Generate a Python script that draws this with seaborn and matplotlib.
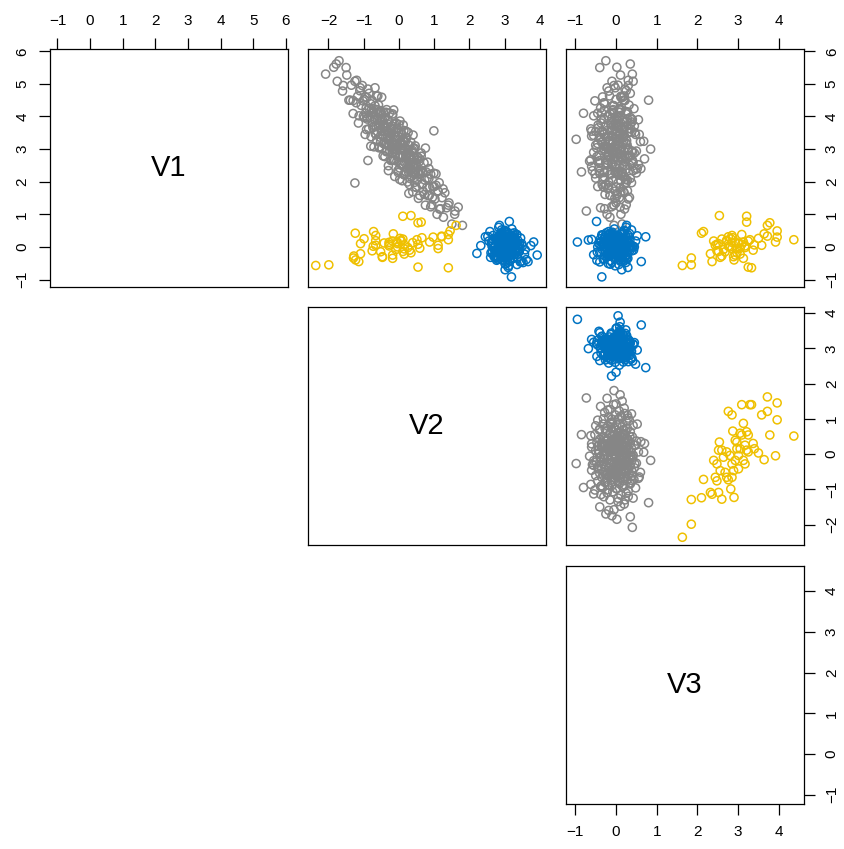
"""
Upper-triangle scatterplot matrix of V1, V2, V3 for three clusters
(gray, blue, yellow), laid out like an R pairs() plot.
"""

import matplotlib
matplotlib.use("Agg")
import matplotlib.pyplot as plt
import pandas as pd
import seaborn as sns

# ---- data ----
gray_v1 = [
    5.30, 5.71, 5.61, 4.95, 5.50, 4.50, 4.96, 4.09, 5.08, 4.42,
    4.62, 4.02, 4.79, 4.34, 4.95, 4.01, 4.52, 3.45, 4.26, 4.58,
    3.96, 4.84, 3.62, 4.24, 3.97, 4.39, 3.38, 4.10, 4.49, 3.66,
    4.14, 3.07, 3.90, 4.33, 3.47, 4.11, 3.70, 4.63, 3.27, 3.91,
    3.54, 4.13, 3.72, 4.35, 3.04, 3.88, 3.37, 4.15, 3.74, 3.23,
    3.91, 3.55, 4.59, 3.02, 3.91, 3.40, 3.69, 4.12, 3.16, 3.55,
    3.93, 2.77, 3.71, 3.34, 4.13, 3.17, 3.56, 2.94, 3.78, 3.37,
    3.90, 2.49, 3.53, 3.11, 4.10, 2.94, 3.38, 3.61, 2.65, 3.49,
    3.17, 3.71, 2.90, 4.08, 3.22, 2.66, 3.45, 2.98, 3.77, 2.16,
    3.29, 2.83, 3.52, 3.00, 3.79, 2.63, 3.17, 3.40, 2.34, 3.08,
    3.51, 2.75, 3.19, 2.42, 3.86, 2.80, 3.24, 2.52, 3.01, 3.45,
    2.03, 3.12, 2.81, 3.24, 2.53, 3.57, 2.21, 2.94, 2.58, 3.22,
    2.75, 2.29, 3.33, 2.61, 3.00, 1.99, 2.88, 3.51, 2.30, 2.74,
    2.47, 3.11, 2.10, 2.83, 2.52, 3.21, 2.15, 2.68, 2.27, 2.91,
    1.69, 2.53, 3.02, 2.25, 2.74, 1.98, 2.52, 3.10, 2.29, 1.83,
    2.56, 2.04, 2.76, 2.24, 2.61, 1.58, 2.31, 2.78, 1.91, 2.28,
    1.70, 2.58, 2.05, 1.28, 2.30, 1.82, 2.60, 1.57, 2.10, 1.82,
    2.23, 1.29, 1.85, 2.26, 1.47, 1.89, 1.00, 1.71, 1.97, 1.17,
    1.51, 0.91, 1.66, 1.20, 1.35, 0.70, 1.00, 1.22, 0.66, 3.56,
    3.30, 3.00, 4.50, 1.10, 2.30, 4.10, 2.70, 1.96, 2.65, 3.55,
    3.74, 2.79, 2.88, 3.60, 1.64, 4.20, 2.40, 4.63, 2.07, 3.80,
    3.43, 2.34, 2.24, 4.24, 2.32, 3.62, 1.49, 5.27, 2.77, 3.14,
    3.03, 2.66, 3.24, 3.09, 1.52, 4.18, 3.36, 4.48, 1.84, 2.93,
    1.78, 4.21, 1.91, 3.45, 2.97, 4.49, 2.32, 3.68, 2.96, 3.07,
    3.75, 4.71, 2.67, 2.66, 1.23, 3.65, 2.38, 4.78, 2.22, 2.28,
    3.26, 4.88, 1.16, 3.42, 3.02, 3.92, 2.40, 4.03, 1.61, 3.42,
    2.55, 5.11, 2.11, 3.97, 2.79, 3.83, 1.28, 3.35, 2.70, 3.80,
    2.38, 4.88, 2.45, 3.51, 1.85, 4.21, 2.22, 3.97, 2.50, 3.04,
    5.08, 1.94, 3.07, 2.96, 2.92, 1.72, 4.21, 2.58, 3.63, 2.80,
    5.51, 1.58, 3.85, 2.99, 3.24, 2.13, 3.71, 2.84, 4.60, 3.52,
]
gray_v2 = [
    -2.08, -1.70, -1.78, -1.58, -1.50, -1.42, -1.35, -1.30, -1.25, -1.21,
    -1.17, -1.13, -1.11, -1.07, -1.04, -1.01, -0.98, -0.96, -0.93, -0.91,
    -0.89, -0.88, -0.86, -0.84, -0.82, -0.80, -0.79, -0.77, -0.76, -0.74,
    -0.72, -0.71, -0.69, -0.68, -0.67, -0.66, -0.65, -0.64, -0.63, -0.62,
    -0.61, -0.60, -0.59, -0.58, -0.57, -0.56, -0.55, -0.54, -0.53, -0.52,
    -0.51, -0.50, -0.49, -0.48, -0.47, -0.46, -0.45, -0.44, -0.43, -0.42,
    -0.41, -0.40, -0.39, -0.38, -0.37, -0.36, -0.35, -0.34, -0.33, -0.32,
    -0.31, -0.30, -0.29, -0.28, -0.27, -0.26, -0.25, -0.24, -0.23, -0.22,
    -0.21, -0.20, -0.19, -0.18, -0.17, -0.16, -0.15, -0.14, -0.13, -0.12,
    -0.11, -0.10, -0.09, -0.08, -0.07, -0.06, -0.05, -0.04, -0.03, -0.02,
    -0.01, 0.00, 0.01, 0.02, 0.03, 0.04, 0.05, 0.06, 0.07, 0.08,
    0.09, 0.10, 0.11, 0.12, 0.13, 0.14, 0.15, 0.16, 0.17, 0.18,
    0.19, 0.20, 0.21, 0.22, 0.23, 0.24, 0.25, 0.26, 0.27, 0.28,
    0.29, 0.30, 0.31, 0.32, 0.33, 0.34, 0.35, 0.36, 0.37, 0.38,
    0.39, 0.40, 0.41, 0.42, 0.43, 0.44, 0.45, 0.46, 0.47, 0.48,
    0.49, 0.51, 0.53, 0.55, 0.57, 0.59, 0.61, 0.63, 0.65, 0.67,
    0.69, 0.71, 0.73, 0.75, 0.77, 0.79, 0.81, 0.83, 0.85, 0.87,
    0.90, 0.93, 0.96, 0.99, 1.02, 1.05, 1.08, 1.11, 1.14, 1.18,
    1.22, 1.26, 1.30, 1.35, 1.42, 1.50, 1.58, 1.68, 1.80, 0.99,
    -0.27, -0.18, -1.38, 1.59, 0.55, -0.95, 0.30, -1.25, -0.88, 0.20,
    0.12, -0.45, 0.63, -0.92, 0.28, -0.15, 0.85, -0.60, 0.02, -1.15,
    0.40, -0.30, 1.05, -0.72, 0.18, -0.05, 0.55, -1.48, 0.33, -0.38,
    0.75, -0.20, 0.05, -0.80, 0.95, -0.52, 0.22, -1.02, 0.47, -0.10,
    1.25, -0.35, 0.30, -0.65, 0.10, -1.30, 0.68, -0.25, 0.38, -0.55,
    0.00, -0.85, 0.52, -0.12, 0.90, -0.42, 0.25, -1.60, 0.60, -0.02,
    0.15, -0.68, 1.15, -0.32, 0.45, -0.90, 0.35, -0.18, 0.72, -0.48,
    0.08, -1.20, 0.80, -0.40, 0.20, -0.75, 1.40, -0.08, 0.58, -0.58,
    0.32, -1.10, 0.42, -0.28, 1.00, -0.62, 0.14, -0.98, 0.50, -0.22,
    -1.75, 0.66, -0.05, 0.26, -0.36, 1.10, -0.78, 0.36, -0.14, 0.04,
    -1.85, 0.86, -0.50, 0.16, -0.26, 0.44, -0.70, 0.24, -0.96, 0.06,
]
gray_v3 = [
    0.40, -0.25, 0.35, -0.05, -0.40, 0.20, 0.05, -0.15, 0.42, -0.30,
    0.12, -0.55, 0.25, -0.08, 0.30, -0.20, 0.00, 0.48, -0.38, 0.15,
    -0.10, 0.22, -0.62, 0.08, 0.35, -0.28, 0.05, -0.45, 0.18, -0.12,
    0.28, -0.22, 0.55, -0.05, 0.10, -0.35, 0.02, 0.20, -0.18, 0.40,
    -0.50, 0.07, -0.25, 0.32, -0.02, 0.15, -0.40, 0.25, -0.12, 0.60,
    -0.30, 0.00, 0.12, -0.15, 0.38, -0.60, 0.20, -0.08, 0.05, -0.35,
    0.28, -0.20, 0.45, -0.02, 0.10, -0.45, 0.18, -0.10, 0.35, -0.25,
    0.02, 0.22, -0.32, 0.08, -0.05, 0.50, -0.18, 0.15, -0.40, 0.30,
    -0.08, 0.05, -0.55, 0.25, -0.15, 0.40, -0.30, 0.12, -0.02, 0.20,
    -0.38, 0.08, 0.32, -0.20, 0.00, -0.65, 0.15, -0.10, 0.42, -0.28,
    0.10, -0.05, 0.25, -0.42, 0.05, 0.20, -0.15, 0.55, -0.30, 0.00,
    0.12, -0.50, 0.30, -0.08, 0.18, -0.22, 0.05, 0.38, -0.12, -0.35,
    0.22, -0.02, 0.10, -0.45, 0.28, -0.18, 0.45, 0.02, -0.28, 0.15,
    -0.60, 0.08, 0.35, -0.15, 0.00, -0.35, 0.20, -0.05, 0.50, -0.25,
    0.12, -0.10, 0.30, -0.40, 0.05, 0.25, -0.20, 0.00, 0.15, -0.30,
    0.40, -0.08, 0.10, -0.52, 0.22, -0.15, 0.05, 0.35, -0.25, 0.00,
    0.18, -0.40, 0.28, -0.05, 0.15, -0.20, 0.42, 0.02, -0.32, 0.10,
    -0.12, 0.25, -0.45, 0.05, 0.30, -0.18, 0.12, -0.02, 0.38, -0.28,
    0.08, -0.15, 0.20, -0.38, 0.00, 0.15, -0.22, 0.10, -0.05, -0.10,
    -0.98, 0.85, 0.80, -0.73, -0.85, -0.80, 0.70, 0.05, -0.20, -0.60,
    -0.44, 0.31, -0.07, 0.19, 0.03, -0.29, 0.52, -0.16, 0.24, -0.37,
    0.09, -0.58, 0.14, 0.44, -0.21, 0.36, -0.03, 0.11, -0.47, 0.27,
    -0.12, 0.06, 0.68, -0.26, 0.33, -0.09, 0.18, -0.52, 0.00, 0.41,
    -0.20, 0.13, -0.34, 0.57, -0.15, 0.22, -0.41, 0.07, 0.29, -0.23,
    -0.06, 0.35, -0.62, 0.16, -0.11, -0.44, 0.48, -0.18, 0.10, -0.30,
    0.26, -0.02, 0.21, -0.55, 0.04, -0.36, 0.61, 0.12, -0.27, 0.20,
    -0.08, 0.30, -0.50, 0.05, -0.19, 0.39, -0.06, -0.40, 0.17, -0.13,
    0.25, -0.22, -0.04, 0.46, -0.31, 0.08, -0.16, 0.02, 0.34, -0.48,
    -0.10, 0.23, 0.15, -0.35, 0.00, 0.28, -0.07, -0.24, 0.32, -0.42,
    0.02, -0.14, 0.26, -0.01, 0.19, -0.28, 0.12, -0.09, -0.33, 0.37,
]

blue_v1 = [
    0.05, -0.32, 0.21, -0.08, 0.44, -0.15, 0.02, -0.51, 0.27, -0.12,
    0.14, 0.36, -0.27, 0.00, -0.09, 0.60, -0.42, 0.18, -0.21, 0.06,
    0.30, -0.03, -0.36, 0.12, 0.24, -0.15, 0.51, -0.24, 0.04, -0.63,
    0.39, -0.10, 0.16, -0.30, 0.01, 0.13, -0.45, 0.33, -0.07, 0.22,
    -0.18, 0.08, -0.54, 0.42, -0.02, 0.19, -0.33, 0.10, 0.66, -0.26,
    0.03, -0.12, 0.28, -0.40, 0.15, -0.05, 0.35, -0.19, 0.09, -0.92,
    0.25, -0.06, -0.29, 0.47, 0.00, -0.14, 0.20, -0.37, 0.11, 0.31,
    -0.22, 0.07, 0.78, -0.48, 0.17, -0.01, -0.11, 0.26, -0.34, 0.05,
    0.38, -0.16, 0.12, -0.58, 0.23, -0.04, 0.45, -0.25, 0.02, 0.16,
    -0.31, 0.09, -0.07, 0.34, -0.20, 0.55, -0.13, 0.06, -0.39, 0.21,
    0.00, -0.27, 0.18, -0.09, 0.29, -0.44, 0.11, 0.40, -0.17, -0.03,
    0.14, -0.35, 0.24, -0.70, 0.08, 0.32, -0.10, 0.19, -0.23, 0.48,
    -0.06, 0.13, -0.28, 0.04, 0.37, -0.16, 0.22, -0.47, 0.01, 0.10,
    0.11, -0.21, 0.33, -0.06, 0.02, -0.38, 0.19, 0.07, -0.14, 0.26,
    -0.29, 0.15, -0.02, 0.41, -0.11, 0.04, -0.46, 0.22, 0.09, -0.18,
    0.31, -0.08, 0.13, -0.25, 0.00, 0.37, -0.15, 0.06, -0.32, 0.18,
    -0.04, 0.24, -0.20, 0.10, 0.52, -0.12, 0.03, -0.41, 0.16, -0.07,
    0.28, -0.23, 0.08, -0.01, 0.35, -0.16, 0.12, -0.53, 0.20, 0.05,
    -0.10, 0.43, -0.27, 0.01, 0.14, -0.35, 0.25, -0.05, 0.09, -0.19,
    0.30, -0.13, 0.17, -0.24, 0.02, 0.21, -0.09, 0.38, -0.30, 0.06,
    -0.17, 0.11, -0.03, 0.27, -0.44, 0.14, 0.00, -0.22, 0.19, -0.06,
]
blue_v2 = [
    3.12, 2.78, 3.05, 3.33, 2.91, 3.20, 2.64, 3.01, 3.45, 2.86,
    2.97, 3.26, 2.71, 3.09, 3.58, 2.83, 3.15, 2.55, 3.03, 3.38,
    2.93, 2.69, 3.22, 3.07, 2.80, 3.41, 2.99, 3.17, 2.32, 3.10,
    2.88, 3.29, 3.02, 2.74, 3.13, 2.95, 3.66, 2.82, 3.04, 3.24,
    2.61, 3.08, 3.35, 2.90, 3.18, 2.77, 3.00, 3.48, 2.85, 3.14,
    3.06, 2.72, 3.27, 2.94, 3.82, 3.11, 2.67, 3.31, 2.98, 3.19,
    2.89, 3.43, 3.03, 2.58, 3.16, 2.96, 3.37, 2.79, 3.09, 2.45,
    3.21, 2.92, 3.13, 3.52, 2.84, 3.05, 2.73, 3.28, 3.00, 2.87,
    3.34, 2.97, 2.62, 3.11, 3.25, 2.81, 3.04, 3.92, 2.90, 3.16,
    2.76, 3.07, 3.40, 2.95, 2.21, 3.20, 2.88, 3.12, 3.61, 2.99,
    3.02, 2.70, 3.30, 3.14, 2.86, 3.47, 2.93, 3.08, 2.65, 3.23,
    2.94, 3.36, 2.80, 3.01, 3.18, 2.52, 3.10, 2.91, 3.29, 3.05,
    3.15, 2.83, 3.06, 3.74, 2.97, 3.22, 2.75, 3.09, 2.89, 3.32,
    3.04, 2.89, 3.17, 2.95, 3.28, 2.81, 3.10, 2.98, 3.39, 2.74,
    3.13, 2.92, 3.06, 3.21, 2.85, 3.01, 3.44, 2.68, 3.15, 2.96,
    3.09, 2.79, 3.25, 3.00, 2.88, 3.34, 2.94, 3.12, 2.60, 3.19,
    2.97, 3.07, 2.83, 3.30, 2.91, 3.03, 3.50, 2.77, 3.14, 2.99,
    3.22, 2.86, 3.05, 2.72, 3.18, 2.93, 3.36, 3.02, 2.80, 3.11,
    2.90, 3.27, 2.97, 3.08, 2.66, 3.16, 3.00, 2.84, 3.42, 2.95,
    3.06, 2.78, 3.23, 2.92, 3.12, 2.87, 3.31, 3.03, 2.70, 3.19,
    2.98, 3.09, 2.82, 3.26, 3.01, 2.94, 3.14, 3.56, 2.89, 3.04,
]
blue_v3 = [
    -0.10, 0.22, 0.05, -0.34, 0.14, -0.02, 0.41, -0.19, 0.08, -0.27,
    0.31, -0.07, 0.17, -0.45, 0.02, 0.25, -0.13, 0.48, -0.22, 0.10,
    -0.04, 0.36, -0.30, 0.12, -0.16, 0.06, 0.20, -0.55, 0.00, 0.29,
    -0.08, 0.15, -0.38, 0.23, 0.03, -0.24, 0.62, -0.11, 0.09, -0.01,
    0.18, -0.29, 0.07, -0.14, 0.34, -0.05, 0.11, -0.42, 0.26, -0.20,
    0.04, 0.39, -0.09, 0.16, -0.95, 0.21, -0.26, 0.01, 0.13, -0.35,
    0.27, -0.12, 0.08, -0.18, 0.45, -0.03, 0.19, -0.31, 0.06, 0.73,
    -0.15, 0.10, -0.48, 0.24, -0.06, 0.33, -0.21, 0.02, 0.15, -0.37,
    0.12, -0.25, 0.30, -0.02, -0.60, 0.20, -0.09, 0.05, 0.37, -0.17,
    0.07, -0.33, 0.16, 0.52, -0.11, -0.04, 0.28, -0.23, 0.09, -0.68,
    0.22, -0.14, 0.01, 0.35, -0.28, 0.11, -0.07, 0.18, -0.40, 0.04,
    -0.19, 0.26, -0.05, 0.14, -0.32, 0.08, 0.43, -0.12, 0.00, 0.21,
    -0.03, 0.17, -0.22, 0.10, 0.29, -0.46, 0.06, -0.10, 0.32, -0.16,
    0.06, -0.18, 0.24, -0.09, 0.15, -0.31, 0.02, 0.28, -0.12, 0.10,
    -0.25, 0.19, -0.04, 0.33, -0.15, 0.08, -0.40, 0.22, -0.07, 0.13,
    0.01, -0.21, 0.30, -0.10, 0.17, -0.35, 0.05, 0.26, -0.02, -0.17,
    0.12, -0.28, 0.20, -0.06, 0.38, -0.13, 0.09, -0.47, 0.16, 0.03,
    -0.20, 0.27, -0.08, 0.11, -0.33, 0.18, 0.00, -0.14, 0.34, -0.05,
    0.21, -0.24, 0.07, 0.14, -0.11, 0.29, -0.38, 0.04, 0.23, -0.16,
    -0.01, 0.17, -0.27, 0.09, 0.42, -0.08, 0.13, -0.19, 0.06, -0.30,
    0.25, -0.03, 0.10, -0.22, 0.19, -0.12, 0.31, 0.00, -0.09, 0.15,
]

yellow_v1 = [
    -0.57, -0.55, -0.34, 0.42, 0.47, -0.21, 0.05, -0.12, 0.18, 0.96,
    -0.28, 0.10, 0.31, -0.05, -0.40, 0.25, -0.15, 0.02, 0.35, -0.30,
    0.12, -0.08, 0.20, 0.00, 0.28, -0.18, 0.15, 0.08, 0.76, -0.62,
    0.38, 0.22, -0.64, 0.05, 0.33, 0.66, 0.49, 0.30, 0.22, 0.74,
    0.15, 0.40, 0.26, -0.10, 0.06, 0.94, -0.02, 0.18, -0.22, 0.10,
    -0.35, 0.03, -0.25, 0.14, -0.06, 0.24, -0.14, 0.08, -0.32, 0.13,
    -0.04, -0.45, 0.19,
]
yellow_v2 = [
    -2.36, -1.99, -1.29, -1.24, -0.72, -1.09, -0.66, -0.76, -0.18, 0.34,
    -1.28, -1.09, 1.21, 1.11, -1.23, -0.99, -0.52, -0.73, -0.66, -0.47,
    -0.42, -0.09, 0.06, -0.04, 0.65, 0.34, 0.87, 0.54, 0.63, 0.54,
    1.40, 1.40, 1.40, 1.11, 1.21, 1.62, 1.45, 0.97, 0.51, 0.54,
    -0.05, -0.16, 0.03, 0.30, 0.15, 0.11, 0.25, 0.06, 0.15, -0.04,
    -0.18, -0.28, -0.18, -0.28, 0.15, 0.11, 0.11, -0.28, -0.47, 0.39,
    0.59, -1.14, -0.66,
]
yellow_v3 = [
    1.63, 1.85, 1.85, 2.10, 2.15, 2.32, 2.44, 2.48, 2.40, 2.54,
    2.60, 2.52, 2.76, 2.85, 2.90, 2.82, 2.68, 2.76, 2.85, 2.89,
    3.01, 2.64, 2.72, 2.80, 2.87, 2.97, 3.13, 3.09, 3.21, 3.25,
    3.09, 3.29, 3.33, 3.58, 3.72, 3.72, 3.96, 3.96, 4.37, 3.78,
    3.92, 3.64, 3.50, 3.37, 3.40, 3.21, 3.17, 3.25, 3.05, 3.01,
    3.13, 3.17, 2.93, 2.85, 2.97, 2.60, 2.52, 2.48, 2.56, 2.93,
    3.05, 2.36, 2.72,
]

var_names = ["V1", "V2", "V3"]
var_ticks = [list(range(-1, 7)), list(range(-2, 5)), list(range(-1, 5))]
var_lims = [(-1.23, 6.07), (-2.58, 4.17), (-1.23, 4.62)]

groups = [
    ("#868686", pd.DataFrame({"V1": gray_v1, "V2": gray_v2, "V3": gray_v3})),
    ("#0073C2", pd.DataFrame({"V1": blue_v1, "V2": blue_v2, "V3": blue_v3})),
    ("#EFC000", pd.DataFrame({"V1": yellow_v1, "V2": yellow_v2, "V3": yellow_v3})),
]

# ---- style ----
sns.set_style("white")
plt.rcParams["font.family"] = ["Liberation Sans", "DejaVu Sans"]
plt.rcParams["axes.edgecolor"] = "black"
plt.rcParams["axes.linewidth"] = 0.9
plt.rcParams["text.color"] = "black"
plt.rcParams["xtick.color"] = "black"
plt.rcParams["ytick.color"] = "black"
plt.rcParams["xtick.labelcolor"] = "black"
plt.rcParams["ytick.labelcolor"] = "black"

W, H = 844, 849
fig = plt.figure(figsize=(W / 100, H / 100), dpi=100)

col_x = [50, 308, 566]
row_y = [49, 307, 566]
box = 238

tick_kw = dict(length=8, width=0.9, pad=7, labelsize=11, color="black")

for i in range(3):
    for j in range(i, 3):
        ax = fig.add_axes([col_x[j] / W, 1 - (row_y[i] + box) / H, box / W, box / H])
        ax.set_xlim(var_lims[j])
        ax.set_ylim(var_lims[i])

        if i == j:
            ax.text(0.5, 0.5, var_names[i], transform=ax.transAxes,
                    ha="center", va="center", fontsize=21, color="black")
        else:
            for color, df in groups:
                sns.scatterplot(data=df, x=var_names[j], y=var_names[i], ax=ax,
                                s=34, facecolor="none", edgecolor=color,
                                linewidth=1.1, legend=False)
        ax.set_xlabel("")
        ax.set_ylabel("")

        # x axis: top on the first row, bottom only under the last panel
        if i == 0:
            ax.set_xticks(var_ticks[j])
            ax.tick_params(axis="x", top=True, bottom=False,
                           labeltop=True, labelbottom=False, **tick_kw)
        elif i == 2 and j == 2:
            ax.set_xticks(var_ticks[j])
            ax.tick_params(axis="x", top=False, bottom=True,
                           labeltop=False, labelbottom=True, **tick_kw)
        else:
            ax.set_xticks([])

        # y axis: left on the first panel, right on the last column
        if i == 0 and j == 0:
            ax.set_yticks(var_ticks[i])
            ax.tick_params(axis="y", left=True, right=False, labelleft=True,
                           labelright=False, labelrotation=90, **tick_kw)
        elif j == 2:
            ax.set_yticks(var_ticks[i])
            ax.tick_params(axis="y", left=False, right=True, labelleft=False,
                           labelright=True, labelrotation=90, **tick_kw)
        else:
            ax.set_yticks([])
        for lab in ax.get_yticklabels():
            lab.set_va("center")

fig.savefig("out.png", dpi=100)
print("saved out.png")
